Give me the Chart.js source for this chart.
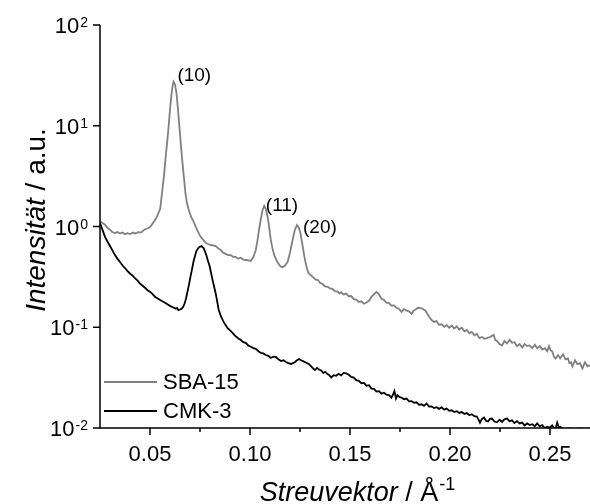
<!DOCTYPE html>
<html>
<head>
<meta charset="utf-8">
<script src="https://cdn.jsdelivr.net/npm/chart.js@4"></script>
<style>
  body { margin: 0; background: #fff; }
  canvas { display: block; }
</style>
</head>
<body>
<canvas id="saxsChart" width="590" height="504"></canvas>
<script>
// SBA-15: Streuvektor (1/Å) und Intensität
const sbaQ = [
  0.0250, 0.0262, 0.0275, 0.0287, 0.0300, 0.0312, 0.0325, 0.0337, 0.0350, 0.0362,
  0.0375, 0.0387, 0.0401, 0.0415, 0.0428, 0.0441, 0.0455, 0.0466, 0.0476, 0.0490,
  0.0501, 0.0510, 0.0520, 0.0530, 0.0540, 0.0551, 0.0560, 0.0570, 0.0577, 0.0585,
  0.0593, 0.0600, 0.0607, 0.0613, 0.0618, 0.0624, 0.0632, 0.0640, 0.0647, 0.0654,
  0.0661, 0.0670, 0.0677, 0.0685, 0.0694, 0.0705, 0.0717, 0.0730, 0.0741, 0.0753,
  0.0765, 0.0778, 0.0790, 0.0803, 0.0815, 0.0828, 0.0840, 0.0853, 0.0865, 0.0878,
  0.0890, 0.0903, 0.0915, 0.0928, 0.0940, 0.0953, 0.0966, 0.0979, 0.0991, 0.1004,
  0.1017, 0.1029, 0.1037, 0.1045, 0.1054, 0.1063, 0.1071, 0.1079, 0.1088, 0.1096,
  0.1104, 0.1112, 0.1121, 0.1133, 0.1146, 0.1155, 0.1163, 0.1175, 0.1188, 0.1200,
  0.1213, 0.1224, 0.1235, 0.1244, 0.1252, 0.1262, 0.1272, 0.1282, 0.1292, 0.1303,
  0.1315, 0.1327, 0.1339, 0.1350, 0.1361, 0.1375, 0.1389, 0.1400, 0.1411, 0.1425,
  0.1439, 0.1448, 0.1456, 0.1468, 0.1481, 0.1494, 0.1506, 0.1519, 0.1531, 0.1544,
  0.1557, 0.1570, 0.1582, 0.1595, 0.1607, 0.1620, 0.1632, 0.1645, 0.1657, 0.1670,
  0.1682, 0.1695, 0.1707, 0.1720, 0.1732, 0.1745, 0.1758, 0.1770, 0.1783, 0.1795,
  0.1808, 0.1818, 0.1828, 0.1840, 0.1850, 0.1860, 0.1868, 0.1876, 0.1883, 0.1895,
  0.1908, 0.1920, 0.1933, 0.1945, 0.1958, 0.1971, 0.1984, 0.1996, 0.2009, 0.2021,
  0.2034, 0.2046, 0.2059, 0.2072, 0.2084, 0.2097, 0.2109, 0.2122, 0.2134, 0.2147,
  0.2160, 0.2172, 0.2185, 0.2200, 0.2218, 0.2226, 0.2235, 0.2248, 0.2260, 0.2272,
  0.2285, 0.2298, 0.2310, 0.2322, 0.2335, 0.2348, 0.2361, 0.2373, 0.2386, 0.2398,
  0.2411, 0.2424, 0.2436, 0.2449, 0.2461, 0.2474, 0.2486, 0.2495, 0.2503, 0.2511,
  0.2520, 0.2528, 0.2540, 0.2551, 0.2565, 0.2578, 0.2590, 0.2597, 0.2605, 0.2612,
  0.2625, 0.2637, 0.2650, 0.2662, 0.2675, 0.2687, 0.2700, 0.2712
];
const sbaI = [
  1.13, 1.08, 1.04, 0.97, 0.93, 0.88, 0.86, 0.88, 0.85, 0.87,
  0.84, 0.86, 0.84, 0.87, 0.85, 0.88, 0.87, 0.91, 0.94, 0.96,
  0.99, 1.05, 1.12, 1.20, 1.33, 1.50, 2.15, 3.2, 4.6, 6.6,
  9.8, 14.5, 20.2, 25.0, 27.4, 26.0, 21.5, 14.5, 9.8, 6.6,
  4.6, 3.0, 2.15, 1.70, 1.46, 1.25, 1.13, 0.98, 0.88, 0.79,
  0.74, 0.69, 0.67, 0.655, 0.65, 0.64, 0.61, 0.585, 0.55, 0.535,
  0.52, 0.52, 0.50, 0.50, 0.48, 0.49, 0.47, 0.465, 0.46, 0.455,
  0.50, 0.585, 0.72, 0.92, 1.18, 1.46, 1.60, 1.50, 1.25, 0.98,
  0.735, 0.61, 0.52, 0.46, 0.415, 0.40, 0.395, 0.41, 0.445, 0.55,
  0.735, 0.92, 1.035, 0.98, 0.86, 0.66, 0.50, 0.40, 0.345, 0.33,
  0.315, 0.298, 0.294, 0.276, 0.270, 0.255, 0.252, 0.243, 0.240, 0.228,
  0.226, 0.216, 0.222, 0.212, 0.216, 0.203, 0.204, 0.190, 0.188, 0.178,
  0.181, 0.171, 0.176, 0.183, 0.200, 0.212, 0.224, 0.212, 0.192, 0.187,
  0.175, 0.174, 0.164, 0.165, 0.156, 0.152, 0.142, 0.151, 0.146, 0.144,
  0.136, 0.146, 0.150, 0.156, 0.155, 0.154, 0.150, 0.147, 0.140, 0.128,
  0.118, 0.113, 0.115, 0.106, 0.107, 0.101, 0.105, 0.099, 0.104, 0.097,
  0.102, 0.095, 0.099, 0.091, 0.094, 0.087, 0.090, 0.083, 0.086, 0.078,
  0.080, 0.077, 0.078, 0.080, 0.084, 0.075, 0.073, 0.068, 0.066, 0.073,
  0.069, 0.075, 0.070, 0.071, 0.065, 0.068, 0.063, 0.068, 0.065, 0.066,
  0.062, 0.067, 0.062, 0.065, 0.060, 0.062, 0.058, 0.065, 0.059, 0.058,
  0.051, 0.049, 0.053, 0.049, 0.054, 0.048, 0.049, 0.044, 0.045, 0.041,
  0.047, 0.043, 0.044, 0.039, 0.045, 0.041, 0.042, 0.040
];

// CMK-3
const cmkQ = [
  0.0250, 0.0263, 0.0275, 0.0287, 0.0300, 0.0312, 0.0325, 0.0337, 0.0350, 0.0363,
  0.0376, 0.0388, 0.0401, 0.0413, 0.0426, 0.0438, 0.0451, 0.0463, 0.0476, 0.0488,
  0.0501, 0.0514, 0.0526, 0.0539, 0.0551, 0.0564, 0.0577, 0.0589, 0.0602, 0.0614,
  0.0627, 0.0635, 0.0642, 0.0650, 0.0657, 0.0665, 0.0672, 0.0680, 0.0687, 0.0695,
  0.0702, 0.0710, 0.0717, 0.0725, 0.0732, 0.0740, 0.0747, 0.0758, 0.0768, 0.0775,
  0.0783, 0.0790, 0.0798, 0.0805, 0.0813, 0.0820, 0.0828, 0.0835, 0.0843, 0.0855,
  0.0868, 0.0878, 0.0888, 0.0900, 0.0913, 0.0923, 0.0933, 0.0943, 0.0953, 0.0966,
  0.0979, 0.0991, 0.1004, 0.1017, 0.1029, 0.1041, 0.1054, 0.1066, 0.1079, 0.1092,
  0.1104, 0.1117, 0.1129, 0.1142, 0.1155, 0.1167, 0.1180, 0.1192, 0.1205, 0.1215,
  0.1225, 0.1235, 0.1245, 0.1255, 0.1265, 0.1275, 0.1285, 0.1295, 0.1305, 0.1315,
  0.1325, 0.1335, 0.1345, 0.1356, 0.1366, 0.1376, 0.1386, 0.1396, 0.1406, 0.1418,
  0.1431, 0.1443, 0.1456, 0.1468, 0.1481, 0.1494, 0.1506, 0.1519, 0.1531, 0.1544,
  0.1557, 0.1570, 0.1582, 0.1595, 0.1607, 0.1620, 0.1632, 0.1645, 0.1657, 0.1670,
  0.1682, 0.1695, 0.1707, 0.1715, 0.1722, 0.1730, 0.1737, 0.1747, 0.1758, 0.1770,
  0.1783, 0.1795, 0.1808, 0.1820, 0.1833, 0.1845, 0.1858, 0.1870, 0.1883, 0.1895,
  0.1908, 0.1920, 0.1933, 0.1945, 0.1958, 0.1971, 0.1984, 0.1996, 0.2009, 0.2021,
  0.2034, 0.2046, 0.2059, 0.2072, 0.2084, 0.2097, 0.2109, 0.2122, 0.2134, 0.2142,
  0.2150, 0.2160, 0.2170, 0.2180, 0.2190, 0.2200, 0.2210, 0.2222, 0.2235, 0.2248,
  0.2260, 0.2272, 0.2285, 0.2298, 0.2310, 0.2322, 0.2335, 0.2348, 0.2361, 0.2373,
  0.2386, 0.2398, 0.2411, 0.2424, 0.2436, 0.2449, 0.2461, 0.2474, 0.2486, 0.2499,
  0.2511, 0.2520, 0.2528, 0.2536, 0.2545, 0.2551, 0.2560, 0.2575, 0.2600, 0.2625,
  0.2650, 0.2675, 0.2700
];
const cmkI = [
  1.08, 0.92, 0.79, 0.71, 0.64, 0.58, 0.52, 0.48, 0.445, 0.41,
  0.385, 0.36, 0.34, 0.325, 0.305, 0.29, 0.27, 0.258, 0.245, 0.233,
  0.224, 0.212, 0.200, 0.193, 0.186, 0.180, 0.174, 0.168, 0.162, 0.158,
  0.153, 0.155, 0.148, 0.150, 0.152, 0.158, 0.170, 0.192, 0.224, 0.265,
  0.315, 0.375, 0.444, 0.51, 0.57, 0.605, 0.626, 0.64, 0.612, 0.565,
  0.51, 0.455, 0.405, 0.35, 0.294, 0.255, 0.219, 0.185, 0.150, 0.128,
  0.113, 0.105, 0.098, 0.093, 0.088, 0.083, 0.080, 0.077, 0.075, 0.071,
  0.070, 0.066, 0.064, 0.062, 0.061, 0.058, 0.0555, 0.055, 0.053, 0.052,
  0.0495, 0.051, 0.0507, 0.048, 0.0462, 0.047, 0.0452, 0.044, 0.0432, 0.044,
  0.0452, 0.047, 0.0484, 0.047, 0.0462, 0.045, 0.0442, 0.043, 0.0412, 0.039,
  0.0376, 0.0395, 0.0380, 0.0372, 0.0352, 0.0360, 0.0345, 0.0335, 0.0318, 0.0334,
  0.0330, 0.0345, 0.0333, 0.0352, 0.0348, 0.0338, 0.0322, 0.0316, 0.0298, 0.0294,
  0.0278, 0.0280, 0.0262, 0.0266, 0.0246, 0.0245, 0.0230, 0.0232, 0.0219, 0.0224,
  0.0214, 0.0212, 0.0200, 0.0214, 0.0232, 0.0196, 0.0212, 0.0203, 0.0200, 0.0193,
  0.0196, 0.0184, 0.0185, 0.0178, 0.0180, 0.0170, 0.0172, 0.0166, 0.0175, 0.0163,
  0.0164, 0.0158, 0.0161, 0.0155, 0.0160, 0.0152, 0.0156, 0.0148, 0.0150, 0.0144,
  0.0147, 0.0141, 0.0144, 0.0138, 0.0141, 0.0134, 0.0137, 0.0131, 0.0130, 0.0122,
  0.0113, 0.0123, 0.0127, 0.0118, 0.0116, 0.0123, 0.0124, 0.0116, 0.0114, 0.0121,
  0.0115, 0.0122, 0.0124, 0.0117, 0.0119, 0.0112, 0.0117, 0.0111, 0.0113, 0.0106,
  0.0111, 0.0107, 0.0109, 0.0104, 0.0111, 0.0104, 0.0107, 0.0100, 0.0103, 0.0101,
  0.0106, 0.0100, 0.0099, 0.0113, 0.0100, 0.0103, 0.0099, 0.0098, 0.0099, 0.0098,
  0.0099, 0.0098, 0.0099
];

// Achsen, Beschriftungen
const xTicks = [0.05, 0.10, 0.15, 0.20, 0.25];
const xTickLabels = ["0.05", "0.10", "0.15", "0.20", "0.25"];
const xMinorTicks = [0.075, 0.125, 0.175, 0.225];
const yTicks = [0.01, 0.1, 1, 10, 100];
const yExponents = ["-2", "-1", "0", "1", "2"];

// Reflexe (hkl)
const peakLabels = ["(10)", "(11)", "(20)"];
const peakQ = [0.0637, 0.1079, 0.1265];
const peakI = [27.8, 1.43, 0.862];

const seriesNames = ["SBA-15", "CMK-3"];
const seriesColors = ["#808080", "#000000"];

const FONT = '"Liberation Sans", Arial, Helvetica, sans-serif';

function toPoints(qs, vals) {
  return qs.map((q, i) => ({ x: q, y: vals[i] }));
}

// Achsen, Ticks, Titel, Legende selbst zeichnen
const axesPlugin = {
  id: "axesPlugin",
  afterDraw(chart) {
    const c = chart.ctx;
    const xs = chart.scales.x;
    const ys = chart.scales.y;
    const a = chart.chartArea;
    c.save();
    c.strokeStyle = "#000";
    c.fillStyle = "#000";
    c.lineWidth = 1.5;

    // Achsenlinien
    c.beginPath();
    c.moveTo(a.left, a.top);
    c.lineTo(a.left, a.bottom);
    c.lineTo(a.right, a.bottom);
    c.stroke();

    // x-Ticks
    c.beginPath();
    xTicks.forEach(v => {
      const px = xs.getPixelForValue(v);
      c.moveTo(px, a.bottom);
      c.lineTo(px, a.bottom + 7);
    });
    xMinorTicks.forEach(v => {
      const px = xs.getPixelForValue(v);
      c.moveTo(px, a.bottom);
      c.lineTo(px, a.bottom + 4);
    });
    // y-Ticks
    yTicks.forEach(v => {
      const py = ys.getPixelForValue(v);
      c.moveTo(a.left - 7, py);
      c.lineTo(a.left, py);
    });
    c.stroke();

    // x-Tickbeschriftung
    c.font = "22px " + FONT;
    c.textAlign = "center";
    c.textBaseline = "alphabetic";
    xTicks.forEach((v, i) => {
      c.fillText(xTickLabels[i], xs.getPixelForValue(v), a.bottom + 33);
    });

    // y-Tickbeschriftung 10^n
    yTicks.forEach((v, i) => {
      const py = ys.getPixelForValue(v);
      c.font = "14px " + FONT;
      c.textAlign = "right";
      c.fillText(yExponents[i], a.left - 12, py + 2);
      const ew = c.measureText(yExponents[i]).width;
      c.font = "22px " + FONT;
      c.fillText("10", a.left - 13 - ew, py + 8);
    });

    // x-Titel: Streuvektor / Å^-1
    const cx = (a.left + a.right) / 2 + 4;
    c.textAlign = "left";
    c.font = "italic 27px " + FONT;
    const w1 = c.measureText("Streuvektor").width;
    c.font = "27px " + FONT;
    const w2 = c.measureText(" / Å").width;
    let tx = cx - (w1 + w2) / 2;
    c.font = "italic 27px " + FONT;
    c.fillText("Streuvektor", tx, 501);
    c.font = "27px " + FONT;
    c.fillText(" / Å", tx + w1, 501);
    c.font = "18px " + FONT;
    c.fillText("-1", tx + w1 + w2 + 1, 490);

    // y-Titel: Intensität / a.u.
    c.save();
    c.translate(45, 220);
    c.rotate(-Math.PI / 2);
    c.font = "italic 28px " + FONT;
    const w3 = c.measureText("Intensität").width;
    c.font = "28px " + FONT;
    const w4 = c.measureText(" / a.u.").width;
    tx = -(w3 + w4) / 2;
    c.font = "italic 28px " + FONT;
    c.fillText("Intensität", tx, 0);
    c.font = "28px " + FONT;
    c.fillText(" / a.u.", tx + w3, 0);
    c.restore();

    // Reflexe
    c.font = "19px " + FONT;
    c.textAlign = "left";
    peakLabels.forEach((t, i) => {
      c.fillText(t, xs.getPixelForValue(peakQ[i]), ys.getPixelForValue(peakI[i]));
    });

    // Legende
    c.lineWidth = 2;
    c.font = "22px " + FONT;
    c.textBaseline = "middle";
    seriesNames.forEach((name, i) => {
      const ly = 382 + i * 29;
      c.strokeStyle = seriesColors[i];
      c.beginPath();
      c.moveTo(a.left + 4, ly);
      c.lineTo(a.left + 57, ly);
      c.stroke();
      c.fillStyle = "#000";
      c.fillText(name, a.left + 63, ly + 1);
    });
    c.restore();
  }
};

const ctx = document.getElementById("saxsChart").getContext("2d");

const saxsChart = new Chart(ctx, {
  type: "line",
  data: {
    datasets: [
      {
        label: seriesNames[0],
        data: toPoints(sbaQ, sbaI),
        borderColor: seriesColors[0],
        borderWidth: 1.8,
        pointRadius: 0,
        tension: 0,
      },
      {
        label: seriesNames[1],
        data: toPoints(cmkQ, cmkI),
        borderColor: seriesColors[1],
        borderWidth: 1.8,
        pointRadius: 0,
        tension: 0,
      },
    ],
  },
  options: {
    responsive: false,
    animation: false,
    layout: { padding: { left: 100, right: 0, top: 25, bottom: 76 } },
    plugins: {
      legend: { display: false },
      tooltip: { enabled: false },
    },
    scales: {
      x: { type: "linear", min: 0.025, max: 0.27, display: false },
      y: { type: "logarithmic", min: 0.01, max: 100, display: false },
    },
  },
  plugins: [axesPlugin],
});
</script>
</body>
</html>
